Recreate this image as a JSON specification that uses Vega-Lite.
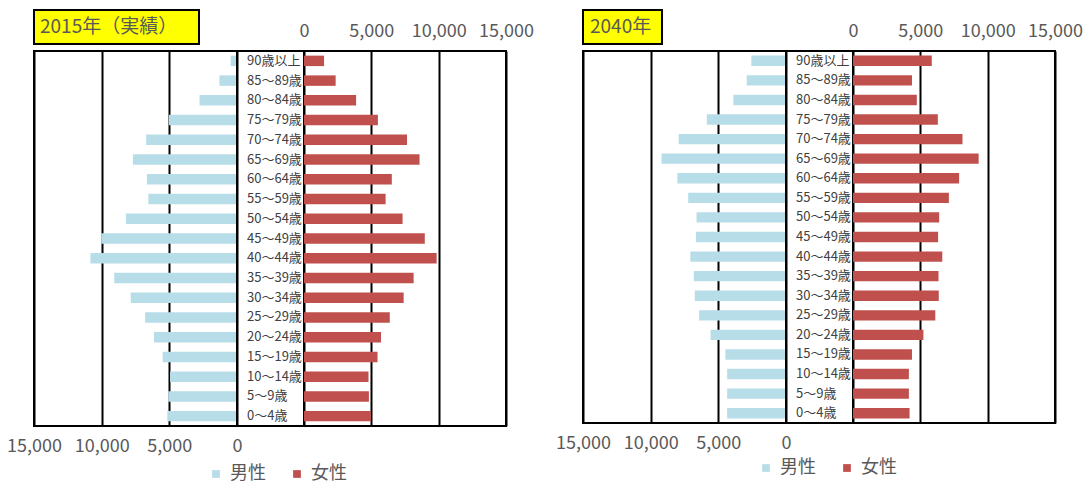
{
  "$schema": "https://vega.github.io/schema/vega-lite/v6.json",
  "background": "white",
  "padding": {"left": 5, "top": 9, "right": 5, "bottom": 5},
  "datasets": {
    "pop": [
      {"year": "2015", "sex": "男性", "age": "90歳以上", "value": 470},
      {"year": "2015", "sex": "男性", "age": "85～89歳", "value": 1300},
      {"year": "2015", "sex": "男性", "age": "80～84歳", "value": 2770},
      {"year": "2015", "sex": "男性", "age": "75～79歳", "value": 5030},
      {"year": "2015", "sex": "男性", "age": "70～74歳", "value": 6710},
      {"year": "2015", "sex": "男性", "age": "65～69歳", "value": 7690},
      {"year": "2015", "sex": "男性", "age": "60～64歳", "value": 6660},
      {"year": "2015", "sex": "男性", "age": "55～59歳", "value": 6550},
      {"year": "2015", "sex": "男性", "age": "50～54歳", "value": 8210},
      {"year": "2015", "sex": "男性", "age": "45～49歳", "value": 10030},
      {"year": "2015", "sex": "男性", "age": "40～44歳", "value": 10830},
      {"year": "2015", "sex": "男性", "age": "35～39歳", "value": 9070},
      {"year": "2015", "sex": "男性", "age": "30～34歳", "value": 7850},
      {"year": "2015", "sex": "男性", "age": "25～29歳", "value": 6790},
      {"year": "2015", "sex": "男性", "age": "20～24歳", "value": 6140},
      {"year": "2015", "sex": "男性", "age": "15～19歳", "value": 5490},
      {"year": "2015", "sex": "男性", "age": "10～14歳", "value": 4950},
      {"year": "2015", "sex": "男性", "age": "5～9歳", "value": 5080},
      {"year": "2015", "sex": "男性", "age": "0～4歳", "value": 5150},
      {"year": "2015", "sex": "女性", "age": "90歳以上", "value": 1490},
      {"year": "2015", "sex": "女性", "age": "85～89歳", "value": 2350},
      {"year": "2015", "sex": "女性", "age": "80～84歳", "value": 3870},
      {"year": "2015", "sex": "女性", "age": "75～79歳", "value": 5490},
      {"year": "2015", "sex": "女性", "age": "70～74歳", "value": 7650},
      {"year": "2015", "sex": "女性", "age": "65～69歳", "value": 8580},
      {"year": "2015", "sex": "女性", "age": "60～64歳", "value": 6520},
      {"year": "2015", "sex": "女性", "age": "55～59歳", "value": 6060},
      {"year": "2015", "sex": "女性", "age": "50～54歳", "value": 7320},
      {"year": "2015", "sex": "女性", "age": "45～49歳", "value": 8970},
      {"year": "2015", "sex": "女性", "age": "40～44歳", "value": 9850},
      {"year": "2015", "sex": "女性", "age": "35～39歳", "value": 8140},
      {"year": "2015", "sex": "女性", "age": "30～34歳", "value": 7400},
      {"year": "2015", "sex": "女性", "age": "25～29歳", "value": 6370},
      {"year": "2015", "sex": "女性", "age": "20～24歳", "value": 5720},
      {"year": "2015", "sex": "女性", "age": "15～19歳", "value": 5460},
      {"year": "2015", "sex": "女性", "age": "10～14歳", "value": 4790},
      {"year": "2015", "sex": "女性", "age": "5～9歳", "value": 4820},
      {"year": "2015", "sex": "女性", "age": "0～4歳", "value": 4970},
      {"year": "2040", "sex": "男性", "age": "90歳以上", "value": 2560},
      {"year": "2040", "sex": "男性", "age": "85～89歳", "value": 2900},
      {"year": "2040", "sex": "男性", "age": "80～84歳", "value": 3890},
      {"year": "2040", "sex": "男性", "age": "75～79歳", "value": 5850},
      {"year": "2040", "sex": "男性", "age": "70～74歳", "value": 7930},
      {"year": "2040", "sex": "男性", "age": "65～69歳", "value": 9200},
      {"year": "2040", "sex": "男性", "age": "60～64歳", "value": 8030},
      {"year": "2040", "sex": "男性", "age": "55～59歳", "value": 7230},
      {"year": "2040", "sex": "男性", "age": "50～54歳", "value": 6610},
      {"year": "2040", "sex": "男性", "age": "45～49歳", "value": 6660},
      {"year": "2040", "sex": "男性", "age": "40～44歳", "value": 7070},
      {"year": "2040", "sex": "男性", "age": "35～39歳", "value": 6810},
      {"year": "2040", "sex": "男性", "age": "30～34歳", "value": 6740},
      {"year": "2040", "sex": "男性", "age": "25～29歳", "value": 6420},
      {"year": "2040", "sex": "男性", "age": "20～24歳", "value": 5570},
      {"year": "2040", "sex": "男性", "age": "15～19歳", "value": 4480},
      {"year": "2040", "sex": "男性", "age": "10～14歳", "value": 4350},
      {"year": "2040", "sex": "男性", "age": "5～9歳", "value": 4350},
      {"year": "2040", "sex": "男性", "age": "0～4歳", "value": 4350},
      {"year": "2040", "sex": "女性", "age": "90歳以上", "value": 5850},
      {"year": "2040", "sex": "女性", "age": "85～89歳", "value": 4380},
      {"year": "2040", "sex": "女性", "age": "80～84歳", "value": 4740},
      {"year": "2040", "sex": "女性", "age": "75～79歳", "value": 6300},
      {"year": "2040", "sex": "女性", "age": "70～74歳", "value": 8130},
      {"year": "2040", "sex": "女性", "age": "65～69歳", "value": 9330},
      {"year": "2040", "sex": "女性", "age": "60～64歳", "value": 7880},
      {"year": "2040", "sex": "女性", "age": "55～59歳", "value": 7120},
      {"year": "2040", "sex": "女性", "age": "50～54歳", "value": 6400},
      {"year": "2040", "sex": "女性", "age": "45～49歳", "value": 6320},
      {"year": "2040", "sex": "女性", "age": "40～44歳", "value": 6630},
      {"year": "2040", "sex": "女性", "age": "35～39歳", "value": 6350},
      {"year": "2040", "sex": "女性", "age": "30～34歳", "value": 6370},
      {"year": "2040", "sex": "女性", "age": "25～29歳", "value": 6110},
      {"year": "2040", "sex": "女性", "age": "20～24歳", "value": 5230},
      {"year": "2040", "sex": "女性", "age": "15～19歳", "value": 4380},
      {"year": "2040", "sex": "女性", "age": "10～14歳", "value": 4150},
      {"year": "2040", "sex": "女性", "age": "5～9歳", "value": 4150},
      {"year": "2040", "sex": "女性", "age": "0～4歳", "value": 4200}
    ]
  },
  "config": {
    "font": "Noto Sans CJK JP",
    "view": {"stroke": "#000000", "strokeWidth": 2},
    "axis": {
      "labelFont": "Noto Sans CJK JP",
      "labelFontSize": 18,
      "labelColor": "#595959",
      "domain": false,
      "ticks": false,
      "grid": true,
      "gridColor": "#000000",
      "gridWidth": 2,
      "gridOpacity": 1,
      "labelPadding": 11,
      "labelFlush": false,
      "labelOverlap": false,
      "title": null
    },
    "legend": {
      "labelFont": "Noto Sans CJK JP",
      "labelFontSize": 18,
      "labelColor": "#595959",
      "symbolType": "square",
      "symbolSize": 60,
      "columnPadding": 22,
      "labelOffset": 5
    }
  },
  "spacing": 19,
  "resolve": {"scale": {"color": "independent"}, "legend": {"color": "independent"}},
  "hconcat": [
    {
      "spacing": -24,
      "vconcat": [
        {
          "width": 165,
          "height": 34,
          "view": {"fill": "#FFFF00", "stroke": "#000000", "strokeWidth": 2},
          "data": {"values": [{"t": "2015年（実績）"}]},
          "mark": {"type": "text", "align": "left", "dx": 6, "fontSize": 19, "color": "#595959", "font": "Noto Sans CJK JP"},
          "encoding": {
            "x": {"datum": 0, "type": "quantitative", "scale": {"domain": [0, 1]}, "axis": null},
            "text": {"field": "t"}
          }
        },
        {
          "hconcat": [
            {
              "width": 203,
              "height": 375,
              "data": {"name": "pop"},
              "transform": [{"filter": "datum.year === '2015' && datum.sex === '男性'"}],
              "mark": {"type": "bar"},
              "encoding": {
                "y": {"field": "age", "type": "nominal", "sort": null, "axis": null, "scale": {"paddingInner": 0.47, "paddingOuter": 0.235}},
                "x": {"field": "value", "type": "quantitative", "scale": {"domain": [0, 15000], "reverse": true, "nice": false}, "axis": {"orient": "bottom", "values": [0, 5000, 10000, 15000], "format": ",d"}},
                "color": {"field": "sex", "type": "nominal", "scale": {"domain": ["男性", "女性"], "range": ["#B7DEE8", "#C0504D"]}, "legend": {"orient": "none", "direction": "horizontal", "title": null, "legendX": 173, "legendY": 455}}
              }
            },
            {
              "width": 67,
              "height": 375,
              "data": {"name": "pop"},
              "transform": [{"filter": "datum.year === '2015' && datum.sex === '男性'"}],
              "mark": {"type": "text", "align": "left", "dx": 10, "fontSize": 13, "color": "#404040", "font": "Noto Sans CJK JP"},
              "encoding": {
                "y": {"field": "age", "type": "nominal", "sort": null, "axis": null, "scale": {"paddingInner": 0.47, "paddingOuter": 0.235}},
                "x": {"datum": 0, "type": "quantitative", "scale": {"domain": [0, 1]}, "axis": null},
                "text": {"field": "age"}
              }
            },
            {
              "width": 202,
              "height": 375,
              "data": {"name": "pop"},
              "transform": [{"filter": "datum.year === '2015' && datum.sex === '女性'"}],
              "mark": {"type": "bar"},
              "encoding": {
                "y": {"field": "age", "type": "nominal", "sort": null, "axis": null, "scale": {"paddingInner": 0.47, "paddingOuter": 0.235}},
                "x": {"field": "value", "type": "quantitative", "scale": {"domain": [0, 15000], "nice": false}, "axis": {"orient": "top", "values": [0, 5000, 10000, 15000], "format": ",d"}},
                "color": {"field": "sex", "type": "nominal", "scale": {"domain": ["男性", "女性"], "range": ["#B7DEE8", "#C0504D"]}, "legend": {"orient": "none", "direction": "horizontal", "title": null, "legendX": 173, "legendY": 455}}
              }
            }
          ],
          "spacing": 0,
          "bounds": "flush",
          "resolve": {"scale": {"x": "independent", "y": "shared"}}
        }
      ]
    },
    {
      "spacing": -24,
      "vconcat": [
        {
          "width": 79,
          "height": 34,
          "view": {"fill": "#FFFF00", "stroke": "#000000", "strokeWidth": 2},
          "data": {"values": [{"t": "2040年"}]},
          "mark": {"type": "text", "align": "left", "dx": 7, "fontSize": 19, "color": "#595959", "font": "Noto Sans CJK JP"},
          "encoding": {
            "x": {"datum": 0, "type": "quantitative", "scale": {"domain": [0, 1]}, "axis": null},
            "text": {"field": "t"}
          }
        },
        {
          "hconcat": [
            {
              "width": 203,
              "height": 372,
              "data": {"name": "pop"},
              "transform": [{"filter": "datum.year === '2040' && datum.sex === '男性'"}],
              "mark": {"type": "bar"},
              "encoding": {
                "y": {"field": "age", "type": "nominal", "sort": null, "axis": null, "scale": {"paddingInner": 0.47, "paddingOuter": 0.235}},
                "x": {"field": "value", "type": "quantitative", "scale": {"domain": [0, 15000], "reverse": true, "nice": false}, "axis": {"orient": "bottom", "values": [0, 5000, 10000, 15000], "format": ",d"}},
                "color": {"field": "sex", "type": "nominal", "scale": {"domain": ["男性", "女性"], "range": ["#B7DEE8", "#C0504D"]}, "legend": {"orient": "none", "direction": "horizontal", "title": null, "legendX": 174, "legendY": 449}}
              }
            },
            {
              "width": 67,
              "height": 372,
              "data": {"name": "pop"},
              "transform": [{"filter": "datum.year === '2040' && datum.sex === '男性'"}],
              "mark": {"type": "text", "align": "left", "dx": 10, "fontSize": 13, "color": "#404040", "font": "Noto Sans CJK JP"},
              "encoding": {
                "y": {"field": "age", "type": "nominal", "sort": null, "axis": null, "scale": {"paddingInner": 0.47, "paddingOuter": 0.235}},
                "x": {"datum": 0, "type": "quantitative", "scale": {"domain": [0, 1]}, "axis": null},
                "text": {"field": "age"}
              }
            },
            {
              "width": 202,
              "height": 372,
              "data": {"name": "pop"},
              "transform": [{"filter": "datum.year === '2040' && datum.sex === '女性'"}],
              "mark": {"type": "bar"},
              "encoding": {
                "y": {"field": "age", "type": "nominal", "sort": null, "axis": null, "scale": {"paddingInner": 0.47, "paddingOuter": 0.235}},
                "x": {"field": "value", "type": "quantitative", "scale": {"domain": [0, 15000], "nice": false}, "axis": {"orient": "top", "values": [0, 5000, 10000, 15000], "format": ",d"}},
                "color": {"field": "sex", "type": "nominal", "scale": {"domain": ["男性", "女性"], "range": ["#B7DEE8", "#C0504D"]}, "legend": {"orient": "none", "direction": "horizontal", "title": null, "legendX": 174, "legendY": 449}}
              }
            }
          ],
          "spacing": 0,
          "bounds": "flush",
          "resolve": {"scale": {"x": "independent", "y": "shared"}}
        }
      ]
    }
  ]
}
